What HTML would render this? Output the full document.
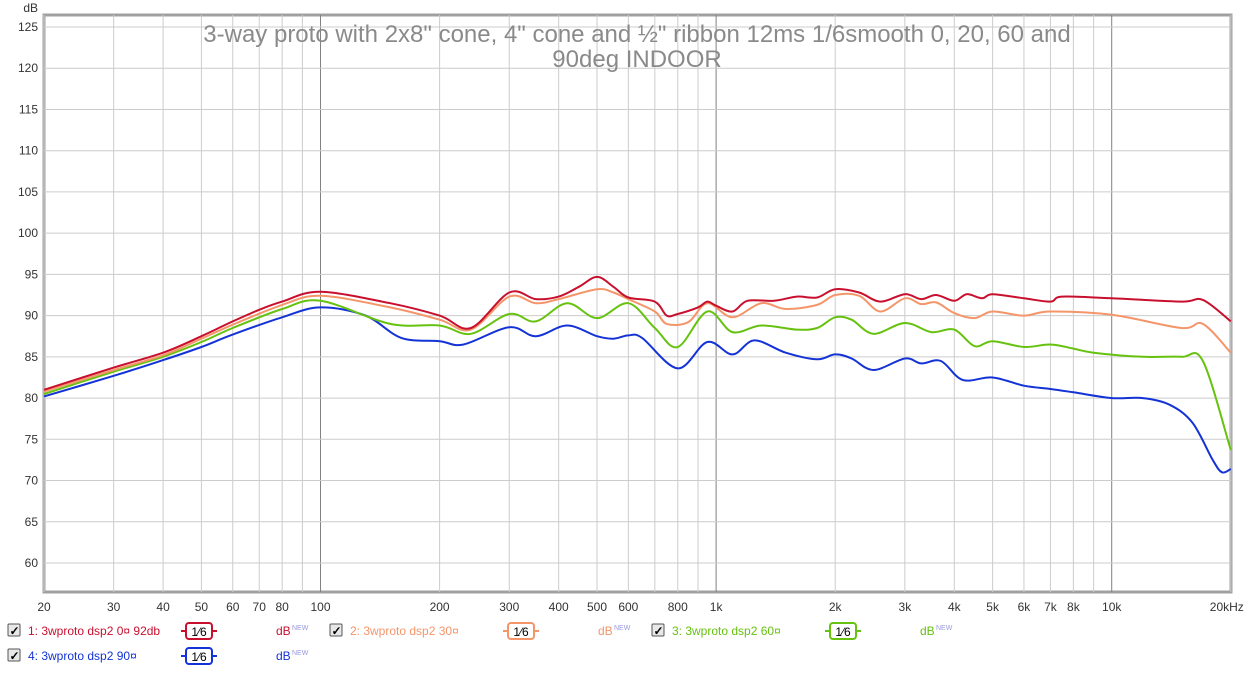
<!DOCTYPE html>
<html><head><meta charset="utf-8"><style>
body{margin:0;background:#fff;width:1252px;height:670px;overflow:hidden;font-family:"Liberation Sans",sans-serif}
svg text{font-family:"Liberation Sans",sans-serif}
</style></head><body>
<svg id="chart" width="1252" height="670" xmlns="http://www.w3.org/2000/svg">
<rect x="0" y="0" width="1252" height="670" fill="#fff"/>
<g id="grid"></g>
<g id="axes"></g>
<text x="637" y="42" font-size="24" fill="#8a8a8a" text-anchor="middle">3-way proto with 2x8" cone, 4" cone and ½" ribbon 12ms 1/6smooth  0, 20, 60 and</text>
<text x="637" y="67" font-size="24" fill="#8a8a8a" text-anchor="middle">90deg INDOOR</text>
<g id="series"></g>
<g id="legend"></g>
</svg>
<script>
const yTicks=[60,65,70,75,80,85,90,95,100,105,110,115,120,125];
const xTickVals=[20,30,40,50,60,70,80,100,200,300,400,500,600,800,1000,2000,3000,4000,5000,6000,7000,8000,10000,20000];
const xTickLabels=["20","30","40","50","60","70","80","100","200","300","400","500","600","800","1k","2k","3k","4k","5k","6k","7k","8k","10k","20kHz"];
const minorGrid=[20,30,40,50,60,70,80,90,100,200,300,400,500,600,700,800,900,1000,2000,3000,4000,5000,6000,7000,8000,9000,10000,20000];
const freqs0=[20,30,40,50,60,70,80,100,150,200,240,300,350,400,450,500,550,600,700,750,800,900,950,1000,1100,1200,1400,1600,1800,2000,2300,2600,3000,3300,3600,4000,4300,4700,5000,6000,7000,7500,10000,15000,17000,20000];
const db0=[81,83.7,85.5,87.5,89.3,90.7,91.7,92.9,91.5,90,88.5,92.8,92,92.3,93.5,94.7,93.5,92.2,91.7,90,90.2,91,91.7,91.2,90.5,91.8,91.8,92.3,92.2,93.2,92.8,91.7,92.6,92,92.5,91.8,92.6,92.1,92.6,92.1,91.7,92.3,92.1,91.7,91.9,89.3];
const freqs30=[20,30,40,50,60,80,100,150,200,240,300,350,400,500,550,600,700,750,850,950,1100,1300,1500,1800,2000,2300,2600,3000,3300,3600,4000,4500,5000,6000,7000,10000,15000,17000,20000];
const db30=[80.8,83.4,85.2,87.2,88.9,91.3,92.4,91,89.5,88.3,92.3,91.5,92,93.2,92.8,92,90.5,89,89.2,91.5,89.8,91.5,90.8,91.3,92.5,92.4,90.5,92.1,91.4,91.6,90.3,89.7,90.5,90,90.5,90.1,88.5,89,85.5];
const freqs60=[20,30,40,50,60,80,100,150,200,240,300,350,420,500,600,700,800,950,1100,1300,1600,1800,2000,2200,2500,3000,3500,4000,4500,5000,6000,7000,8000,9000,12000,15000,17000,20000];
const db60=[80.5,83.2,85,86.8,88.5,90.8,91.8,89,88.8,87.8,90.2,89.3,91.5,89.7,91.5,88.5,86.2,90.5,88,88.8,88.3,88.5,89.8,89.5,87.8,89.1,88,88.3,86.3,86.9,86.2,86.5,86,85.5,85,85,84.5,73.7];
const freqs90=[20,30,40,50,60,80,100,130,160,200,230,300,350,420,500,550,600,650,800,950,1100,1250,1500,1800,2000,2200,2500,3000,3300,3700,4200,5000,6000,7000,8000,10000,12000,14000,16000,18000,19000,20000];
const db90=[80.2,82.7,84.6,86.2,87.7,89.8,91,90,87.3,86.9,86.5,88.6,87.5,88.8,87.5,87.2,87.6,87.3,83.6,86.8,85.3,87,85.5,84.7,85.3,84.8,83.4,84.8,84.2,84.5,82.2,82.5,81.5,81.1,80.7,80,80,79.2,77,72.5,71,71.4];
const seriesNames=["1: 3wproto dsp2 0¤ 92db","2: 3wproto dsp2 30¤","3: 3wproto dsp2 60¤","4: 3wproto dsp2 90¤"];
const seriesColors=["#c8102e","#f4956a","#66c20f","#1433d6"];

const NS="http://www.w3.org/2000/svg";
const L=44,R=1231,T=15,B=592;
const decade=395.6;
function xs(f){return L+Math.log10(f/20)*decade;}
function ys(v){return 27+(125-v)*(536/65);}
function mk(tag,attrs,parent){const e=document.createElementNS(NS,tag);for(const k in attrs)e.setAttribute(k,attrs[k]);parent.appendChild(e);return e;}
const grid=document.getElementById('grid'),axes=document.getElementById('axes'),ser=document.getElementById('series'),leg=document.getElementById('legend');
const fr=mk('rect',{x:L,y:T,width:R-L,height:B-T,fill:'#fff',stroke:'#a0a0a0','stroke-width':3},grid);


minorGrid.forEach(f=>{const major=[100,1000,10000].includes(f);const l=mk('line',{x1:xs(f),x2:xs(f),y1:T,y2:B,stroke:major?'#808080':'#cccccc','stroke-width':1},grid);

});
yTicks.forEach(v=>{const l=mk('line',{x1:L,x2:R,y1:ys(v),y2:ys(v),stroke:'#cccccc','stroke-width':1},grid);


const t=mk('text',{x:38,y:ys(v)+4,'font-size':12,fill:'#333','text-anchor':'end'},axes);t.textContent=v;

});
const yl=mk('text',{x:38,y:12,'font-size':12,fill:'#333','text-anchor':'end'},axes);yl.textContent='dB';


xTickVals.forEach((f,i)=>{let x=xs(f);if(i===xTickVals.length-1){x-=4;}
const t=mk('text',{x:x,y:611,'font-size':12,fill:'#333','text-anchor':'middle'},axes);t.textContent=xTickLabels[i];

});
function pathFor(fs,ds){const p=fs.map((f,i)=>[xs(f),ys(ds[i])]);let d='M'+p[0][0].toFixed(1)+','+p[0][1].toFixed(1);
for(let i=0;i<p.length-1;i++){const p0=p[Math.max(0,i-1)],p1=p[i],p2=p[i+1],p3=p[Math.min(p.length-1,i+2)];
const c1=[p1[0]+(p2[0]-p0[0])/6,p1[1]+(p2[1]-p0[1])/6],c2=[p2[0]-(p3[0]-p1[0])/6,p2[1]-(p3[1]-p1[1])/6];
d+=' C'+c1.map(v=>v.toFixed(1)).join(',')+' '+c2.map(v=>v.toFixed(1)).join(',')+' '+p2.map(v=>v.toFixed(1)).join(',');}return d;}
const all=[[freqs90,db90,3],[freqs60,db60,2],[freqs30,db30,1],[freqs0,db0,0]];
all.forEach(([f,d,i])=>{const p=mk('path',{d:pathFor(f,d),fill:'none',stroke:seriesColors[i],'stroke-width':2},ser);

});
const lpos=[[8,631],[330,631],[652,631],[8,656]];
seriesNames.forEach((n,i)=>{const [x,y]=lpos[i];const c=seriesColors[i];
const g=mk('g',{},leg);


const cb=mk('rect',{x:x,y:y-7,width:12,height:12,fill:'#e8e8e8',stroke:'#555','stroke-width':1,rx:1},g);


const ck=mk('text',{x:x+1.5,y:y+4,'font-size':12,fill:'#000','font-weight':'bold'},g);ck.textContent='✓';


const t=mk('text',{x:x+20,y:y+4,'font-size':12,fill:c},g);t.textContent=n;


const bx=x+173;
mk('line',{x1:bx,x2:bx+36,y1:y,y2:y,stroke:c,'stroke-width':2},g);
const sb=mk('rect',{x:bx+5,y:y-8,width:26,height:16,rx:3,fill:'#fff',stroke:c,'stroke-width':2},g);


const st=mk('text',{x:bx+18,y:y+5,'font-size':12,fill:'#000','text-anchor':'middle'},g);st.textContent='1⁄6';


const u=mk('text',{x:x+268,y:y+4,'font-size':12,fill:c},g);u.textContent='dB';


const nw=mk('text',{x:x+284,y:y-1,'font-size':7,fill:'#9999dd'},g);nw.textContent='NEW';

});
</script>
</body></html>
